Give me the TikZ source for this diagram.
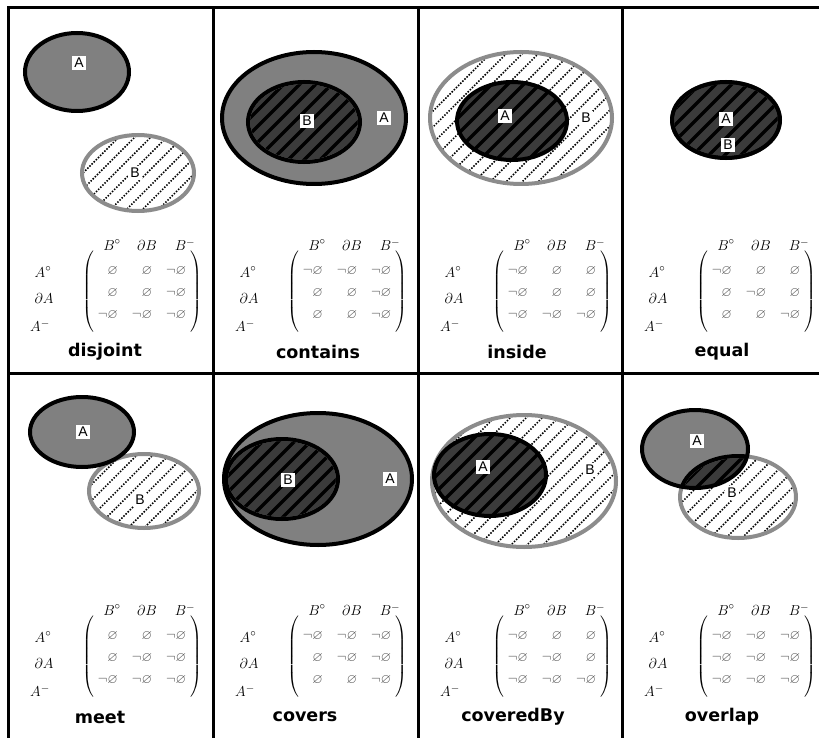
\documentclass[tikz,border=0pt]{standalone}
\usepackage{amssymb}
\usepackage{fontspec}
\usetikzlibrary{patterns.meta}

\newfontfamily\titlefont{DejaVu Sans}
\newfontfamily\tagfont{Liberation Sans}

\definecolor{agray}{RGB}{128,128,128}
\definecolor{bgray}{RGB}{140,140,140}
\definecolor{egray}{RGB}{85,85,85}

\newcommand{\emp}{{\color{egray}\varnothing}}
\newcommand{\nemp}{{\color{egray}\neg\varnothing}}
\renewcommand{\arraystretch}{1.45}

% diagonal lines over the whole sheet, cut by the clip in force
\newcommand{\hatchall}[1]{\foreach \hh in {0,16,...,1568} \draw[#1] (\hh,0) -- ++(-800,800);}

% #1 = region A, #2 = region B
\newcommand{\regions}[2]{%
  \fill[white] #2;
  \begin{scope} \clip #2; \hatchall{hatch} \end{scope}
  \fill[agray] #1;
  \begin{scope} \clip #1; \clip #2;
    \fill[black] #1; \fill[checker] #1; \hatchall{stripe}
  \end{scope}
  \draw[bline] #2;
  \begin{scope} \clip #1; \draw[aline] #2; \end{scope}
  \draw[aline] #1;
}

% 9-intersection matrix, its labels and the name of the relation
\newcommand{\relmat}[4]{%
  \node[mat] (#1m) at (134,284) {$\left(\rule[-37pt]{0pt}{74pt}\begin{array}{@{\hspace{4pt}}r@{\hspace{14pt}}r@{\hspace{14pt}}r@{\hspace{4pt}}}#2\end{array}\right)$};
  \node[hd] (#1h1) at (104,237) {$B^\circ$};
  \node[hd] (#1h2) at (139,237) {$\partial B$};
  \node[hd] (#1h3) at (177,237) {$B^-$};
  \node[hd] (#1r1) at (35,264) {$A^\circ$};
  \node[hd] (#1r2) at (36,290) {$\partial A$};
  \node[hd] (#1r3) at (32,318) {$A^-$};
  \node[ttl] (#1t) at (#4,344) {#3};
}

\begin{document}
\begin{tikzpicture}[x=1pt,y=-1pt,
  frame/.style={line width=3pt},
  hatch/.style={line width=1.5pt,dash pattern=on 1.5pt off 1.5pt},
  stripe/.style={line width=3.5pt},
  checker/.style={pattern={Dots[distance=2pt,radius=0.7pt]},pattern color=white},
  aline/.style={line width=4pt},
  bline/.style={line width=4pt,bgray},
  tag/.style={fill=white,inner sep=2pt,font=\tagfont\fontsize{14}{16}\selectfont},
  mat/.style={inner sep=0pt,font=\fontsize{13.5}{15}\selectfont},
  hd/.style={inner sep=0pt,font=\fontsize{15}{17}\selectfont},
  ttl/.style={inner sep=0pt,font=\titlefont\bfseries\fontsize{17.5}{20}\selectfont}]
\useasboundingbox (0,0) rectangle (819,738);
\fill[white] (0,0) rectangle (819,738);

% disjoint
\regions{(77,72) ellipse [x radius=52, y radius=39]}{(138,173) ellipse [x radius=56, y radius=38]}
\node[tag] (dA) at (79,63) {A}; \node[tag] (dB) at (135,173) {B};
\begin{scope}[shift={(8,8)}]
\relmat{d}{\emp & \emp & \nemp \\ \emp & \emp & \nemp \\ \nemp & \nemp & \nemp}{disjoint}{97}
\end{scope}

% contains
\regions{(314,118) ellipse [x radius=92, y radius=66]}{(304,122) ellipse [x radius=56, y radius=40]}
\node[tag] (cB) at (307,121) {B}; \node[tag] (cA) at (384,118) {A};
\begin{scope}[shift={(213,8)}]
\relmat{c}{\nemp & \nemp & \nemp \\ \emp & \emp & \nemp \\ \emp & \emp & \nemp}{contains}{105}
\end{scope}

% inside
\regions{(512,121) ellipse [x radius=55, y radius=39]}{(521,118) ellipse [x radius=91, y radius=66]}
\node[tag] (iA) at (505,116) {A}; \node[tag] (iB) at (586,118) {B};
\begin{scope}[shift={(418,8)}]
\relmat{i}{\nemp & \emp & \emp \\ \nemp & \emp & \emp \\ \nemp & \nemp & \nemp}{inside}{99}
\end{scope}

% equal
\regions{(726,120) ellipse [x radius=54, y radius=38]}{(726,120) ellipse [x radius=54, y radius=38]}
\node[tag] (eA) at (726,119) {A}; \node[tag] (eB) at (728,145) {B};
\begin{scope}[shift={(622,8)}]
\relmat{e}{\nemp & \emp & \emp \\ \emp & \nemp & \emp \\ \emp & \emp & \nemp}{equal}{100}
\end{scope}

% meet
\regions{(82,432) ellipse [x radius=52, y radius=35]}{(144,491) ellipse [x radius=55, y radius=37]}
\node[tag] (mA) at (83,432) {A}; \node[tag] (mB) at (140,500) {B};
\begin{scope}[shift={(8,373)}]
\relmat{m}{\emp & \emp & \nemp \\ \emp & \nemp & \nemp \\ \nemp & \nemp & \nemp}{meet}{92}
\end{scope}

% covers
\regions{(318,479) ellipse [x radius=94, y radius=66]}{(282,479) ellipse [x radius=56, y radius=40]}
\node[tag] (vB) at (288,480) {B}; \node[tag] (vA) at (390,479) {A};
\begin{scope}[shift={(213,373)}]
\relmat{v}{\nemp & \nemp & \nemp \\ \emp & \nemp & \nemp \\ \emp & \emp & \nemp}{covers}{92}
\end{scope}

% coveredBy
\regions{(490,475) ellipse [x radius=56, y radius=41]}{(524,481) ellipse [x radius=92, y radius=66]}
\node[tag] (yA) at (483,467) {A}; \node[tag] (yB) at (590,470) {B};
\begin{scope}[shift={(418,373)}]
\relmat{y}{\nemp & \emp & \emp \\ \nemp & \nemp & \emp \\ \nemp & \nemp & \nemp}{coveredBy}{95}
\end{scope}

% overlap
\regions{(695,449) ellipse [x radius=53, y radius=39]}{(738,497) ellipse [x radius=58, y radius=41]}
\node[tag] (oA) at (697,441) {A}; \node[tag] (oB) at (732,493) {B};
\begin{scope}[shift={(622,373)}]
\relmat{o}{\nemp & \nemp & \nemp \\ \nemp & \nemp & \nemp \\ \nemp & \nemp & \nemp}{overlap}{100}
\end{scope}

% frame of the table
\draw[frame] (8,738) -- (8,8) -- (819,8);
\draw[frame] (8,373) -- (819,373);
\foreach \xx in {213,418,622} \draw[frame] (\xx,8) -- (\xx,738);
\end{tikzpicture}
\end{document}
